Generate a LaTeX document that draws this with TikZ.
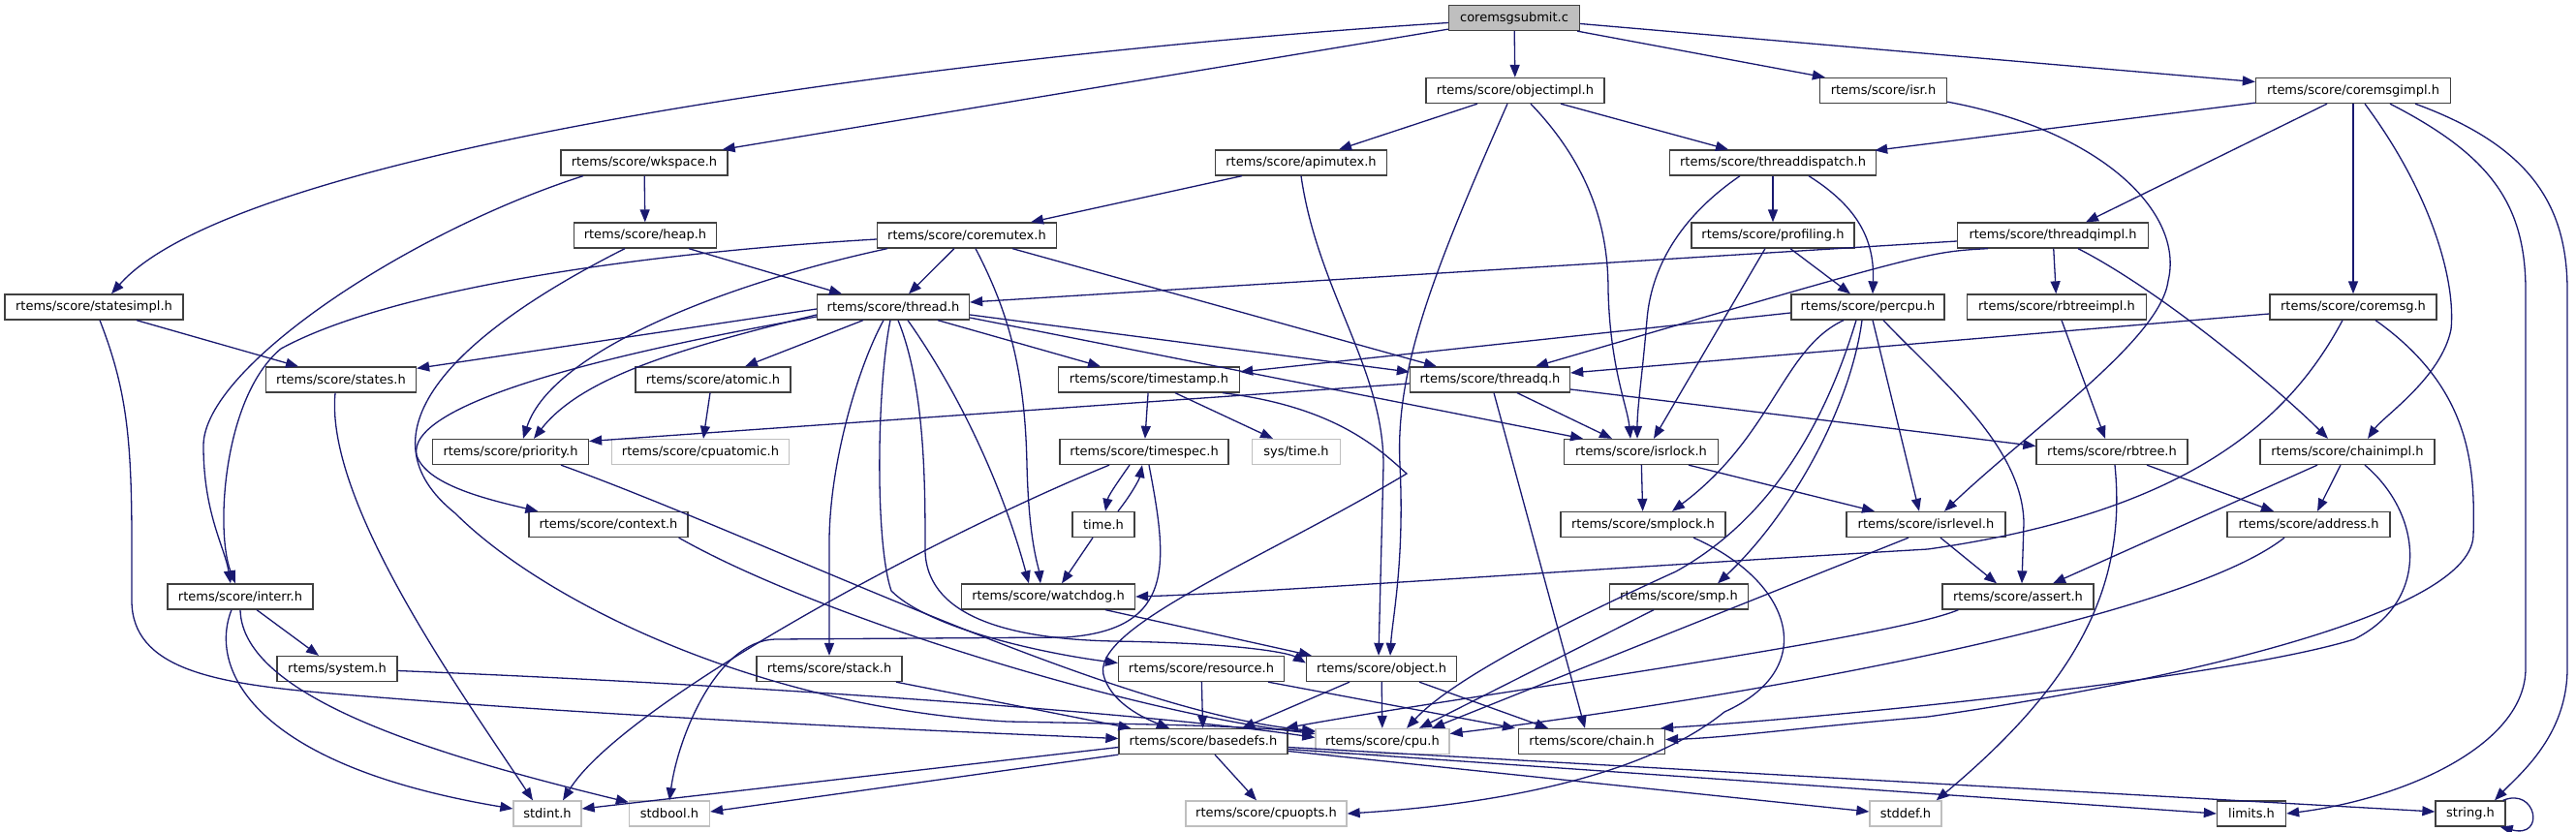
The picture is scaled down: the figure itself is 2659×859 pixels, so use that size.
\documentclass[tikz,border=0pt]{standalone}
\usepackage{fontspec}
\setmainfont{DejaVu Sans}
\usetikzlibrary{arrows.meta,calc}
\definecolor{edgec}{HTML}{191970}
\definecolor{bordc}{HTML}{404040}
\definecolor{extc}{HTML}{BFBFBF}
\definecolor{rootc}{HTML}{BFBFBF}
\tikzset{
  nb/.style={draw=bordc, fill=white, line width=1.3pt, minimum height=26pt, inner sep=0pt, text=black, font=\fontsize{13pt}{15pt}\selectfont},
  ext/.style={nb, draw=extc},
  rootn/.style={nb, fill=rootc},
  dep/.style={draw=edgec, line width=1.3pt, -{Triangle[length=13pt,width=10pt]}},
}
\newcommand\gnode[6][nb]{\node[#1,minimum width=#5pt] (#2) at (#3,#4) {#6};}
\begin{document}
\begin{tikzpicture}[x=1pt,y=-1pt]
\useasboundingbox (0,0) rectangle (2659,859);
% row 0
\gnode[rootn]{root}{1563}{18.5}{135}{coremsgsubmit.c}
% row 1
\gnode{objectimpl}{1564}{93.5}{184}{rtems/score/objectimpl.h}
\gnode{isr}{1944}{93.5}{131}{rtems/score/isr.h}
\gnode{coremsgimpl}{2429}{93.5}{201}{rtems/score/coremsgimpl.h}
% row 2
\gnode{wkspace}{665}{168}{172}{rtems/score/wkspace.h}
\gnode{apimutex}{1343}{168}{177}{rtems/score/apimutex.h}
\gnode{threaddispatch}{1830}{168}{213}{rtems/score/threaddispatch.h}
% row 3
\gnode{heap}{666}{243}{147}{rtems/score/heap.h}
\gnode{coremutex}{998}{243}{185}{rtems/score/coremutex.h}
\gnode{profiling}{1830}{243}{168}{rtems/score/profiling.h}
\gnode{threadqimpl}{2119}{243}{197}{rtems/score/threadqimpl.h}
% row 4
\gnode{statesimpl}{97}{317}{184}{rtems/score/statesimpl.h}
\gnode{thread}{922}{317}{157}{rtems/score/thread.h}
\gnode{percpu}{1928}{317}{158}{rtems/score/percpu.h}
\gnode{rbtreeimpl}{2123}{317}{185}{rtems/score/rbtreeimpl.h}
\gnode{coremsg}{2429}{317}{172}{rtems/score/coremsg.h}
% row 5
\gnode{states}{352}{392}{155}{rtems/score/states.h}
\gnode{atomic}{736}{392}{160}{rtems/score/atomic.h}
\gnode{timestamp}{1186}{392}{187}{rtems/score/timestamp.h}
\gnode{threadq}{1538}{392}{165}{rtems/score/threadq.h}
% row 6
\gnode{priority}{527}{466.5}{161}{rtems/score/priority.h}
\gnode[ext]{cpuatomic}{723}{466.5}{183}{rtems/score/cpuatomic.h}
\gnode{timespec}{1181}{466.5}{174}{rtems/score/timespec.h}
\gnode[ext]{systime}{1338}{466.5}{91}{sys/time.h}
\gnode{isrlock}{1694}{466.5}{159}{rtems/score/isrlock.h}
\gnode{rbtree}{2180}{466.5}{156}{rtems/score/rbtree.h}
\gnode{chainimpl}{2423}{466.5}{180}{rtems/score/chainimpl.h}
% row 7
\gnode{context}{628}{541.5}{164}{rtems/score/context.h}
\gnode{timeh}{1139}{541.5}{64}{time.h}
\gnode{smplock}{1696}{541.5}{170}{rtems/score/smplock.h}
\gnode{isrlevel}{1988}{541.5}{164}{rtems/score/isrlevel.h}
\gnode{address}{2383}{541.5}{168}{rtems/score/address.h}
% row 8
\gnode{interr}{248}{616}{150}{rtems/score/interr.h}
\gnode{watchdog}{1082}{616}{179}{rtems/score/watchdog.h}
\gnode{smp}{1733}{616}{143}{rtems/score/smp.h}
\gnode{assert}{2083}{616}{156}{rtems/score/assert.h}
% row 9
\gnode{system}{348}{690.5}{124}{rtems/system.h}
\gnode{stack}{856}{690.5}{150}{rtems/score/stack.h}
\gnode{resource}{1240}{690.5}{171}{rtems/score/resource.h}
\gnode{object}{1426}{690.5}{155}{rtems/score/object.h}
% row 10
\gnode{basedefs}{1242}{765.5}{174}{rtems/score/basedefs.h}
\gnode[ext]{cpu}{1427}{765.5}{138}{rtems/score/cpu.h}
\gnode{chain}{1643}{765.5}{151}{rtems/score/chain.h}
% row 11
\gnode[ext]{stdint}{565}{840}{70}{stdint.h}
\gnode[ext]{stdbool}{691}{840}{83}{stdbool.h}
\gnode[ext]{cpuopts}{1307}{840}{166}{rtems/score/cpuopts.h}
\gnode[ext]{stddef}{1967}{840}{74}{stddef.h}
\gnode{limits}{2324}{840}{71}{limits.h}
\gnode{string}{2550}{840}{72}{string.h}

% ---- edges ----
% coremsgsubmit.c
\draw[dep] (root) -- (objectimpl);
\draw[dep] ($(root.south east)+(-3,0)$) -- ($(isr.north west)+(6,0)$);
\draw[dep] ($(root.east)+(0,6)$) -- ($(coremsgimpl.west)+(0,-9)$);
\draw[dep] ($(root.south west)+(0,-2)$) -- ($(wkspace.north east)+(-6,0)$);
\draw[dep] ($(root.west)+(0,5)$) .. controls (1000,55) and (250,150) .. ($(statesimpl.north)+(18,0)$);
% objectimpl.h
\draw[dep] ($(objectimpl.south)+(-39,0)$) -- ($(apimutex.north)+(39,0)$);
\draw[dep] ($(objectimpl.south)+(47,0)$) -- ($(threaddispatch.north)+(-46,0)$);
\draw[dep] ($(objectimpl.south)+(-8,0)$) .. controls (1480,280) and (1440,380) .. (1445,480) .. controls (1450,580) and (1437,640) .. ($(object.north)+(9,0)$);
\draw[dep] ($(objectimpl.south)+(16,0)$) .. controls (1650,180) and (1660,250) .. (1660,300) .. controls (1662,380) and (1680,420) .. ($(isrlock.north)+(-11,0)$);
% apimutex.h
\draw[dep] ($(apimutex.south)+(-61,0)$) -- ($(coremutex.north)+(66,0)$);
\draw[dep] (apimutex.south) .. controls (1360,300) and (1428,380) .. (1428,480) -- ($(object.north)+(-3,0)$);
% wkspace.h
\draw[dep] (wkspace) -- (heap);
\draw[dep] ($(wkspace.south)+(-63,0)$) .. controls (420,240) and (210,380) .. (210,460) .. controls (210,530) and (232,565) .. ($(interr.north)+(-10,0)$);
% heap.h
\draw[dep] ($(heap.south)+(45,0)$) -- ($(thread.north)+(-53,0)$);
\draw[dep] ($(heap.south)+(-21,0)$) .. controls (460,350) and (370,450) .. (470,530) .. controls (560,620) and (780,730) .. (1040,745) .. controls (1250,749) .. ($(cpu.west)+(0,-10)$);
% coremutex.h
\draw[dep] ($(coremutex.west)+(0,4)$) .. controls (650,262) and (400,300) .. (290,360) .. controls (230,410) and (222,550) .. ($(interr.north)+(-5,0)$);
\draw[dep] ($(coremutex.south)+(-13,0)$) -- ($(thread.north)+(16,0)$);
\draw[dep] ($(coremutex.south)+(-82,0)$) .. controls (760,290) and (570,360) .. ($(priority.north)+(13,0)$);
\draw[dep] ($(coremutex.south)+(9,0)$) .. controls (1040,320) and (1058,380) .. (1060,480) .. controls (1062,560) and (1072,585) .. ($(watchdog.north)+(-8,0)$);
\draw[dep] ($(coremutex.south)+(47,0)$) -- ($(threadq.north)+(-55,0)$);
% thread.h
\draw[dep] ($(thread.west)+(0,2)$) -- ($(states.north east)+(0,2)$);
\draw[dep] ($(thread.south)+(-31,0)$) -- ($(atomic.north)+(33,0)$);
\draw[dep] ($(thread.west)+(0,8)$) .. controls (700,360) and (600,390) .. ($(priority.north)+(24,0)$);
\draw[dep] ($(thread.west)+(0,10)$) .. controls (600,370) and (420,420) .. (430,470) .. controls (440,500) and (500,515) .. ($(context.north west)+(10,0)$);
\draw[dep] ($(thread.south)+(-10,0)$) .. controls (885,380) and (856,480) .. (856,560) -- (stack.north);
\draw[dep] ($(thread.south)+(-3,0)$) .. controls (905,400) and (903,560) .. (920,610) .. controls (960,650) and (1080,675) .. ($(resource.west)+(0,-6)$);
\draw[dep] ($(thread.south)+(5,0)$) .. controls (955,400) and (955,500) .. (955,570) .. controls (958,640) and (1050,660) .. (1150,662) .. controls (1280,664) and (1330,674) .. ($(object.west)+(0,-6)$);
\draw[dep] ($(thread.south)+(15,0)$) .. controls (1000,420) and (1040,520) .. ($(watchdog.north)+(-20,0)$);
\draw[dep] ($(thread.south)+(46,0)$) -- ($(timestamp.north)+(-50,0)$);
\draw[dep] ($(thread.east)+(0,8)$) -- ($(threadq.west)+(0,-8)$);
\draw[dep] ($(thread.east)+(0,11)$) -- ($(isrlock.north)+(-60,0)$);
% states, atomic, priority, context
\draw[dep] ($(states.south)+(-6,0)$) .. controls (335,520) and (480,720) .. ($(stdint.north)+(-15,0)$);
\draw[dep] ($(atomic.south)+(-3,0)$) -- ($(cpuatomic.north)+(3,0)$);
\draw[dep] ($(priority.south)+(52,0)$) .. controls (800,560) and (1150,736) .. ($(cpu.west)+(0,-11)$);
\draw[dep] ($(context.south east)+(-10,0)$) .. controls (850,640) and (1180,738) .. ($(cpu.west)+(0,-8)$);
% timestamp.h
\draw[dep] (timestamp) -- (timespec);
\draw[dep] ($(timestamp.south)+(27,0)$) -- ($(systime.north)+(-24,0)$);
\draw[dep] ($(timestamp.south)+(76,0)$) .. controls (1380,420) and (1425,465) .. (1452,489) .. controls (1300,580) and (1120,650) .. (1140,700) .. controls (1150,730) and (1190,745) .. ($(basedefs.north)+(-35,0)$);
% timespec.h, time.h
\draw[dep] ($(timespec.south)+(-36,0)$) .. controls (950,560) and (640,730) .. ($(stdint.north)+(16,0)$);
\draw[dep] ($(timespec.south)+(-15,0)$) .. controls (1152,500) and (1144,512) .. ($(timeh.north)+(2,0)$);
\draw[dep] ($(timeh.north)+(15,0)$) .. controls (1168,510) and (1176,495) .. ($(timespec.south)+(-2,0)$);
\draw[dep] ($(timespec.south)+(5,0)$) .. controls (1205,580) and (1215,650) .. (1100,658) -- (800,660) .. controls (740,662) and (700,760) .. (stdbool.north);
\draw[dep] ($(timeh.south)+(-11,0)$) -- ($(watchdog.north)+(14,0)$);
% threadq.h
\draw[dep] ($(threadq.west)+(0,4)$) -- ($(priority.east)+(0,-11)$);
\draw[dep] ($(threadq.south)+(28,0)$) -- ($(isrlock.north)+(-30,0)$);
\draw[dep] ($(threadq.south)+(4,0)$) -- ($(chain.north)+(-7,0)$);
\draw[dep] ($(threadq.east)+(0,10)$) -- ($(rbtree.west)+(0,-6)$);
% isrlock, smplock
\draw[dep] (isrlock) -- (smplock);
\draw[dep] ($(isrlock.south)+(49,0)$) -- ($(isrlevel.north)+(-53,0)$);
\draw[dep] ($(smplock.south)+(52,0)$) .. controls (1850,600) and (1880,690) .. (1780,735) .. controls (1700,800) and (1550,830) .. (cpuopts.east);
% percpu.h
\draw[dep] ($(percpu.west)+(0,6)$) -- ($(timestamp.east)+(0,-8)$);
\draw[dep] ($(percpu.south)+(-25,0)$) .. controls (1840,360) and (1830,450) .. ($(smplock.north)+(30,0)$);
\draw[dep] ($(percpu.south)+(-12,0)$) .. controls (1880,450) and (1820,540) .. (1730,590) .. controls (1620,640) and (1500,700) .. ($(cpu.north)+(25,0)$);
\draw[dep] ($(percpu.south)+(-6,0)$) .. controls (1910,420) and (1850,530) .. ($(smp.north)+(40,0)$);
\draw[dep] ($(percpu.south)+(5,0)$) -- ($(isrlevel.north)+(-7,0)$);
\draw[dep] ($(percpu.south)+(16,0)$) .. controls (2000,390) and (2088,460) .. (2089,540) -- ($(assert.north)+(4,0)$);
% isrlevel, smp
\draw[dep] ($(isrlevel.south)+(-18,0)$) -- ($(cpu.north)+(51,0)$);
\draw[dep] ($(isrlevel.south)+(15,0)$) -- ($(assert.north)+(-22,0)$);
\draw[dep] ($(smp.south)+(-26,0)$) -- ($(cpu.north)+(38,0)$);
% rbtree
\draw[dep] ($(rbtreeimpl.south)+(5,0)$) -- ($(rbtree.north)+(-7,0)$);
\draw[dep] ($(rbtree.south)+(36,0)$) -- ($(address.north)+(-36,0)$);
\draw[dep] ($(rbtree.south)+(3,0)$) .. controls (2195,600) and (2150,700) .. ($(stddef.north east)+(-6,0)$);
% chainimpl, address, assert
\draw[dep] ($(chainimpl.south)+(-7,0)$) -- ($(address.north)+(9,0)$);
\draw[dep] ($(chainimpl.south)+(-31,0)$) -- ($(assert.north)+(36,0)$);
\draw[dep] ($(chainimpl.south)+(18,0)$) .. controls (2500,530) and (2510,620) .. (2430,660) .. controls (2300,700) and (1900,740) .. ($(chain.north east)+(-5,0)$);
\draw[dep] ($(address.south)+(-25,0)$) .. controls (2250,640) and (1800,720) .. ($(cpu.east)+(0,-8)$);
\draw[dep] ($(assert.south west)+(17,0)$) .. controls (1950,660) and (1500,720) .. ($(basedefs.north east)+(-3,0)$);
% coremsg.h
\draw[dep] ($(coremsg.west)+(0,7)$) -- ($(threadq.east)+(0,-7)$);
\draw[dep] ($(coremsg.south)+(-11,0)$) .. controls (2360,440) and (2250,530) .. (1990,567) .. controls (1600,590) and (1300,612) .. (watchdog.east);
\draw[dep] ($(coremsg.south)+(23,0)$) .. controls (2550,400) and (2555,480) .. (2553,553) .. controls (2550,640) and (2200,710) .. (1990,740) .. controls (1850,752) and (1780,762) .. ($(chain.east)+(0,-2)$);
% coremsgimpl.h
\draw[dep] ($(coremsgimpl.south west)+(0,-1)$) -- ($(threaddispatch.north east)+(-2,1)$);
\draw[dep] ($(coremsgimpl.south)+(-27,0)$) -- ($(threadqimpl.north)+(34,0)$);
\draw[dep] (coremsgimpl) -- (coremsg);
\draw[dep] ($(coremsgimpl.south)+(12,0)$) .. controls (2510,200) and (2535,290) .. (2530,340) .. controls (2520,390) and (2460,430) .. ($(chainimpl.north)+(21,0)$);
\draw[dep] ($(coremsgimpl.south)+(38,0)$) .. controls (2570,160) and (2607,210) .. (2607,300) -- (2607,690) .. controls (2607,770) and (2480,825) .. (limits.east);
\draw[dep] ($(coremsgimpl.south)+(64,0)$) .. controls (2610,150) and (2650,210) .. (2650,300) -- (2650,690) .. controls (2650,760) and (2600,800) .. ($(string.north)+(25,0)$);
\draw[dep] ($(string.north east)+(-3,0)$) .. controls (2618,812) and (2628,866) .. ($(string.south east)+(-6,0)$);
% threaddispatch, profiling
\draw[dep] (threaddispatch) -- (profiling);
\draw[dep] ($(threaddispatch.south)+(-34,0)$) .. controls (1740,220) and (1705,270) .. (1700,330) .. controls (1695,390) and (1690,420) .. ($(isrlock.north)+(-4,0)$);
\draw[dep] ($(threaddispatch.south)+(37,0)$) .. controls (1920,215) and (1935,250) .. ($(percpu.north)+(5,0)$);
\draw[dep] ($(profiling.south)+(18,0)$) -- ($(percpu.north)+(-18,0)$);
\draw[dep] ($(profiling.south)+(-8,0)$) -- ($(isrlock.north)+(13,0)$);
% threadqimpl.h
\draw[dep] ($(threadqimpl.west)+(0,6)$) -- ($(thread.east)+(0,-5)$);
\draw[dep] ($(threadqimpl.south)+(-67,0)$) .. controls (1990,260) .. ($(threadq.north)+(47,0)$);
\draw[dep] (threadqimpl) -- (rbtreeimpl);
\draw[dep] ($(threadqimpl.south)+(26,0)$) .. controls (2230,300) and (2350,400) .. ($(chainimpl.north)+(-20,0)$);
% isr.h
\draw[dep] ($(isr.south east)+(0,-2)$) .. controls (2170,135) and (2255,220) .. (2238,290) .. controls (2230,350) and (2100,440) .. ($(isrlevel.north)+(19,0)$);
% interr.h, system.h
\draw[dep] ($(interr.south)+(17,0)$) -- ($(system.north)+(-19,0)$);
\draw[dep] ($(interr.south)+(-9,0)$) .. controls (215,690) and (260,790) .. ($(stdint.west)+(0,-5)$);
\draw[dep] (interr.south) .. controls (250,720) and (450,780) .. ($(stdbool.north west)+(0,2)$);
\draw[dep] ($(system.east)+(0,2)$) .. controls (800,708) and (1200,738) .. ($(cpu.west)+(0,-4)$);
% statesimpl.h
\draw[dep] ($(statesimpl.south)+(44,0)$) -- ($(states.north)+(-44,0)$);
\draw[dep] ($(statesimpl.south)+(6,0)$) .. controls (130,400) and (136,450) .. (136,560) -- (136,620) .. controls (136,690) and (220,705) .. (330,715) .. controls (600,738) and (900,752) .. ($(basedefs.west)+(0,-3)$);
% object, resource, stack, watchdog
\draw[dep] ($(object.south)+(-33,0)$) -- ($(basedefs.north)+(40,0)$);
\draw[dep] (object) -- (cpu);
\draw[dep] ($(object.south)+(39,0)$) -- ($(chain.north)+(-45,0)$);
\draw[dep] (resource) -- (basedefs);
\draw[dep] ($(resource.south)+(69,0)$) -- ($(chain.north)+(-79,0)$);
\draw[dep] ($(stack.south)+(69,0)$) -- ($(basedefs.north west)+(13,0)$);
\draw[dep] ($(watchdog.south)+(59,0)$) -- ($(object.north west)+(6,0)$);
% basedefs.h
\draw[dep] ($(basedefs.west)+(0,6)$) -- ($(stdint.east)+(0,-5)$);
\draw[dep] (basedefs.south west) -- ($(stdbool.east)+(0,-2)$);
\draw[dep] ($(basedefs.south)+(12,0)$) -- ($(cpuopts.north)+(-10,0)$);
\draw[dep] ($(basedefs.east)+(0,10)$) -- ($(stddef.west)+(0,-2)$);
\draw[dep] ($(basedefs.east)+(0,8)$) -- (limits.west);
\draw[dep] ($(basedefs.east)+(0,6)$) -- ($(string.west)+(0,-2)$);
\end{tikzpicture}
\end{document}
